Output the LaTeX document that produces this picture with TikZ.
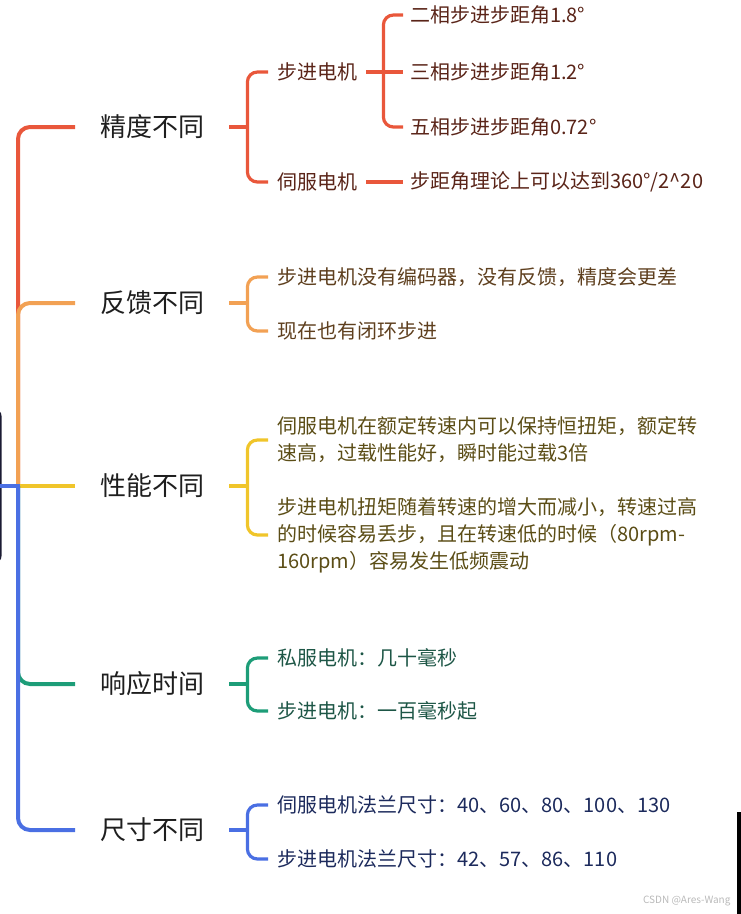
\documentclass[tikz,border=0pt]{standalone}
\usepackage{fontspec}
\setmainfont{Noto Sans CJK SC}
\definecolor{precline}{HTML}{E9573B}
\definecolor{feedline}{HTML}{F2A154}
\definecolor{perfline}{HTML}{F0C52A}
\definecolor{respline}{HTML}{1D9D78}
\definecolor{sizeline}{HTML}{4A6FE3}
\definecolor{rootedge}{HTML}{1B1B33}
\definecolor{topictext}{HTML}{1E1E1E}
\definecolor{prectext}{HTML}{5A2418}
\definecolor{feedtext}{HTML}{5E3F1E}
\definecolor{perftext}{HTML}{5B4D16}
\definecolor{resptext}{HTML}{1D5646}
\definecolor{sizetext}{HTML}{1C2A5C}
\tikzset{
  mm topic/.style={anchor=west,inner xsep=25pt,text=topictext,font=\fontsize{26}{30}\selectfont},
  mm item/.style={anchor=west,inner xsep=9pt,inner ysep=2pt,align=left,font=\fontsize{20}{27}\selectfont},
  mm leaf/.style={mm item,inner xsep=7pt},
  mm main/.style={line width=4pt,rounded corners=12pt},
  mm twig/.style={line width=3.2pt,rounded corners=10pt}
}
\begin{document}
\begin{tikzpicture}[x=1pt,y=-1pt]
  \useasboundingbox (0,0) rectangle (741,914);
  \node[draw=rootedge,line width=2pt,rounded corners=6pt,minimum width=120pt,minimum height=152pt,anchor=east] (root) at (1.5,486) {};
  \coordinate (hub) at (18,486);
  \node[mm topic] (prec) at (75,127) {精度不同};
  \node[mm topic] (feed) at (75,303) {反馈不同};
  \node[mm topic] (perf) at (75,486) {性能不同};
  \node[mm topic] (resp) at (75,684) {响应时间};
  \node[mm topic] (size) at (75,830) {尺寸不同};
  \draw[mm main,precline] (hub) |- (prec.west);
  \draw[mm main,feedline] (hub) |- (feed.west);
  \draw[mm main,perfline] (hub) -- (perf.west);
  \draw[mm main,respline] (hub) |- (resp.west);
  \draw[mm main,sizeline,line cap=rect] (root.east |- hub) -- (hub);
  \draw[mm main,sizeline] (hub) |- (size.west);
  \foreach \t in {prec,feed,perf,resp,size}{\path (\t.east) ++(18,0) coordinate (\t-j);}
  \node[mm item,text=prectext] (stepA) at (268,72) {步进电机};
  \node[mm item,text=prectext] (servoA) at (268,182) {伺服电机};
  \node[mm leaf,text=prectext] (ph2) at (403,15) {二相步进步距角1.8°};
  \node[mm leaf,text=prectext] (ph3) at (403,72) {三相步进步距角1.2°};
  \node[mm leaf,text=prectext] (ph5) at (403,127) {五相步进步距角0.72°};
  \node[mm leaf,text=prectext] (servoLeaf) at (403,182) {步距角理论上可以达到360°/2\textasciicircum20};
  \foreach \k in {stepA,servoA}{\draw[mm twig,precline] (prec-j) |- (\k.west);}
  \draw[mm twig,precline] (prec.east) -- (prec-j);
  \path (stepA.east) ++(17,0) coordinate (stepA-j);
  \draw[mm twig,precline] (stepA.east) -- (ph3.west);
  \foreach \k in {ph2,ph5}{\draw[mm twig,precline] (stepA-j) |- (\k.west);}
  \draw[mm twig,precline] (servoA.east) -- (servoLeaf.west);
  \node[mm item,text=feedtext] (noEnc) at (268,277) {步进电机没有编码器，没有反馈，精度会更差};
  \node[mm item,text=feedtext] (closed) at (268,331) {现在也有闭环步进};
  \draw[mm twig,feedline] (feed.east) -- (feed-j);
  \foreach \k in {noEnc,closed}{\draw[mm twig,feedline] (feed-j) |- (\k.west);}
  \node[mm item,text=perftext] (servoP) at (268,440) {伺服电机在额定转速内可以保持恒扭矩，额定转\\速高，过载性能好，瞬时能过载3倍};
  \node[mm item,text=perftext] (stepP) at (268,535) {步进电机扭矩随着转速的增大而减小，转速过高\\的时候容易丢步，且在转速低的时候（80rpm-\\160rpm）容易发生低频震动};
  \draw[mm twig,perfline] (perf.east) -- (perf-j);
  \foreach \k in {servoP,stepP}{\draw[mm twig,perfline] (perf-j) |- (\k.west);}
  \node[mm item,text=resptext] (servoR) at (268,658) {私服电机：几十毫秒};
  \node[mm item,text=resptext] (stepR) at (268,711) {步进电机：一百毫秒起};
  \draw[mm twig,respline] (resp.east) -- (resp-j);
  \foreach \k in {servoR,stepR}{\draw[mm twig,respline] (resp-j) |- (\k.west);}
  \node[mm item,text=sizetext] (servoS) at (268,805) {伺服电机法兰尺寸：40、60、80、100、130};
  \node[mm item,text=sizetext] (stepS) at (268,859) {步进电机法兰尺寸：42、57、86、110};
  \draw[mm twig,sizeline] (size.east) -- (size-j);
  \foreach \k in {servoS,stepS}{\draw[mm twig,sizeline] (size-j) |- (\k.west);}
  \node[anchor=east,text=gray!55,font=\fontsize{10}{12}\selectfont] (mark) at (734,901) {CSDN @Ares-Wang};
  \fill[black] (737,812) rectangle (741,914);
\end{tikzpicture}
\end{document}
